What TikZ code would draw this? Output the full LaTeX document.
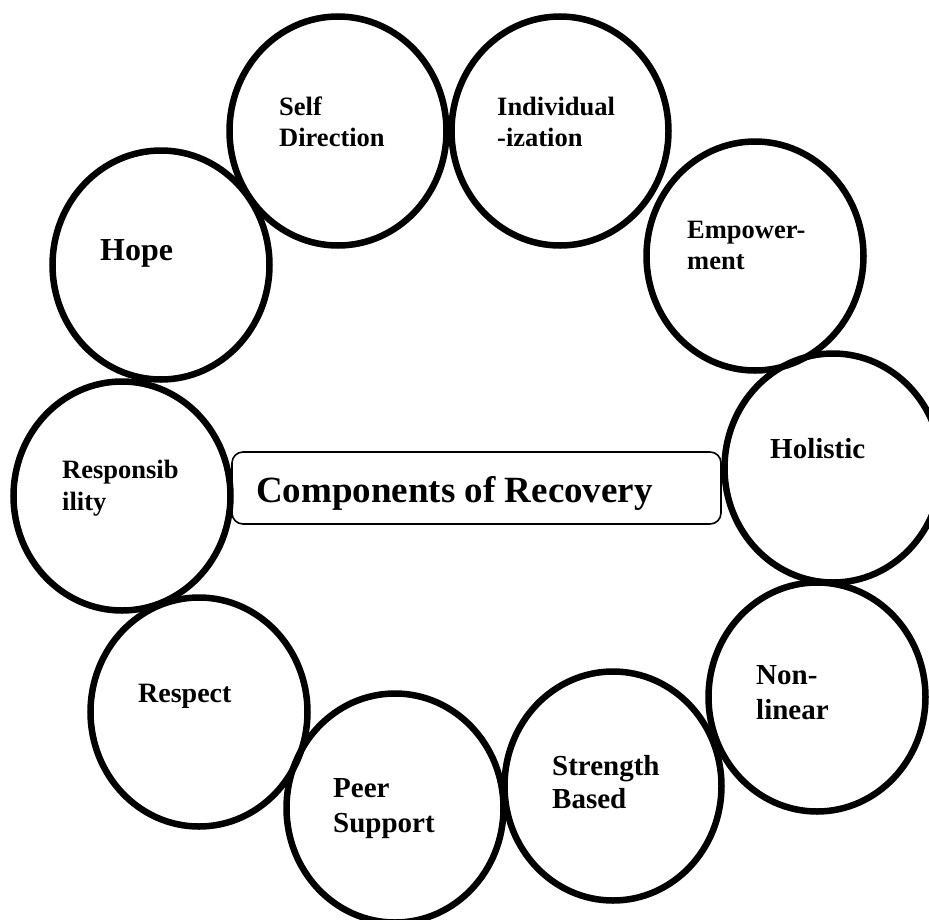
\documentclass[tikz,border=0pt]{standalone}
\usepackage{fontspec}
\setmainfont{Liberation Serif}
\usetikzlibrary{shapes.geometric}
\newcommand{\twolines}[2]{\begin{tabular}[t]{@{}l@{}}#1\\#2\end{tabular}}
\begin{document}
\begin{tikzpicture}[x=1bp,y=-1bp,
  ring/.style={draw=black, ellipse, line width=6.5bp, inner sep=0pt,
    minimum width=217bp, minimum height=229bp},
  lbl/.style={anchor=base west, inner sep=0pt},
  smallfont/.style={font=\bfseries\fontsize{26.5bp}{31bp}\selectfont},
  midfont/.style={font=\bfseries\fontsize{29bp}{34bp}\selectfont},
  titlebox/.style={draw=black, rounded corners=11bp, line width=1.6bp,
    minimum width=489bp, minimum height=72bp, inner sep=0pt}
]
\useasboundingbox (0,0) rectangle (929,920);
% circles
\node[ring] (hope)  at (161,265) {};
\node[ring] (self)  at (338,131) {};
\node[ring] (indiv) at (560,131) {};
\node[ring] (empow) at (755,256) {};
\node[ring] (holis) at (833,468) {};
\node[ring] (nonl)  at (817,697) {};
\node[ring] (stren) at (613,786) {};
\node[ring] (peer)  at (395,808) {};
\node[ring] (resp)  at (199,712) {};
\node[ring] (respo) at (122,496) {};
% central box
\node[titlebox] (box) at (476.5,488) {};
\node[lbl, font=\bfseries\fontsize{37bp}{42bp}\selectfont] (title) at (256,502) {Components of Recovery};
% labels
\node[lbl, font=\bfseries\fontsize{32bp}{36bp}\selectfont] (thope) at (100,260) {Hope};
\node[lbl, smallfont] (tself)  at (279,115) {\twolines{Self}{Direction}};
\node[lbl, smallfont] (tindiv) at (497,115) {\twolines{Individual}{-ization}};
\node[lbl, smallfont] (tempow) at (687,238) {\twolines{Empower-}{ment}};
\node[lbl, midfont] (tholis) at (770,458) {Holistic};
\node[lbl, font=\bfseries\fontsize{29bp}{35bp}\selectfont] (tnonl) at (756,684) {\twolines{Non-}{linear}};
\node[lbl, font=\bfseries\fontsize{29bp}{33bp}\selectfont] (tstren) at (552,775) {\twolines{Strength}{Based}};
\node[lbl, font=\bfseries\fontsize{29bp}{35bp}\selectfont] (tpeer) at (333,797) {\twolines{Peer}{Support}};
\node[lbl, font=\bfseries\fontsize{28bp}{33bp}\selectfont] (tresp) at (138,702) {Respect};
\node[lbl, font=\bfseries\fontsize{26.5bp}{32bp}\selectfont] (trespo) at (62,478) {\twolines{Responsib}{ility}};
\end{tikzpicture}
\end{document}
